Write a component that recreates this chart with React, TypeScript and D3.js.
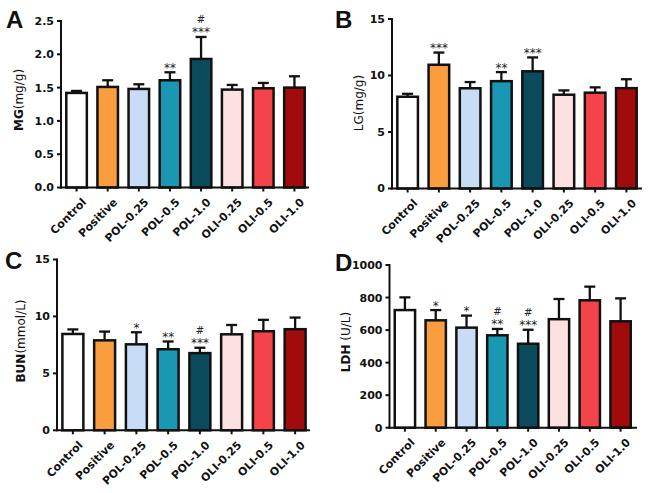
import React from "react";
import * as d3 from "d3";

const groups = ["Control", "Positive", "POL-0.25", "POL-0.5", "POL-1.0", "OLI-0.25", "OLI-0.5", "OLI-1.0"];
const barColors = ["#ffffff", "#f99d3e", "#c8dcf5", "#1997b3", "#0c4b5e", "#fde0e1", "#f5434a", "#a10b0b"];

const mgMean = [1.42, 1.51, 1.48, 1.61, 1.93, 1.47, 1.49, 1.5];
const mgSd = [0.03, 0.1, 0.07, 0.12, 0.33, 0.07, 0.08, 0.17];
const mgStars = ["", "", "", "**", "***", "", "", ""];
const mgHash = ["", "", "", "", "#", "", "", ""];

const lgMean = [8.12, 10.95, 8.87, 9.5, 10.37, 8.3, 8.48, 8.88];
const lgSd = [0.26, 1.08, 0.55, 0.8, 1.23, 0.38, 0.47, 0.79];
const lgStars = ["", "***", "", "**", "***", "", "", ""];
const lgHash = ["", "", "", "", "", "", "", ""];

const bunMean = [8.46, 7.9, 7.55, 7.12, 6.78, 8.43, 8.7, 8.88];
const bunSd = [0.4, 0.77, 1.06, 0.68, 0.47, 0.82, 1.0, 1.02];
const bunStars = ["", "", "*", "**", "***", "", "", ""];
const bunHash = ["", "", "", "", "#", "", "", ""];

const ldhMean = [723, 660, 615, 568, 516, 667, 783, 654];
const ldhSd = [78, 63, 74, 39, 86, 124, 84, 141];
const ldhStars = ["", "*", "*", "**", "***", "", "", ""];
const ldhHash = ["", "", "", "#", "#", "", "", ""];

const mgTicks = [0, 0.5, 1.0, 1.5, 2.0, 2.5];
const lgTicks = [0, 5, 10, 15];
const bunTicks = [0, 5, 10, 15];
const ldhTicks = [0, 200, 400, 600, 800, 1000];

const FONT = "'DejaVu Sans', sans-serif";

interface PanelProps {
  letter: string;
  letterPos: [number, number];
  labelBold: string;
  labelRest: string;
  labelX: number;
  labelY: number;
  x0: number;
  x1: number;
  axisEnd: number;
  yTop: number;
  yBottom: number;
  yMax: number;
  ticks: number[];
  fmt: (v: number) => string;
  mean: number[];
  sd: number[];
  stars: string[];
  hash: string[];
}

const Panel: React.FC<PanelProps> = (p) => {
  const x = d3.scaleBand<string>().domain(groups).range([p.x0, p.x1]).paddingInner(0.34).paddingOuter(0.17);
  const y = d3.scaleLinear().domain([0, p.yMax]).range([p.yBottom, p.yTop]);
  const bw = x.bandwidth();
  const cap = 11;
  return (
    <g>
      <text x={p.letterPos[0]} y={p.letterPos[1]} fontFamily="'Liberation Sans', Arial, sans-serif" fontWeight="bold" fontSize={24} fill="#111">
        {p.letter}
      </text>
      <text
        transform={`translate(${p.labelX},${p.labelY}) rotate(-90)`}
        textAnchor="middle"
        fontFamily={FONT}
        fontSize={12}
        fill="#111"
      >
        <tspan fontWeight="bold">{p.labelBold}</tspan>
        <tspan>{p.labelRest}</tspan>
      </text>
      {/* error bars (upper half only) */}
      {groups.map((g, i) => {
        const cx = (x(g) ?? 0) + bw / 2;
        const top = y(p.mean[i] + p.sd[i]);
        return (
          <g key={"e" + g} stroke="#111" strokeWidth={2.3}>
            <line x1={cx} x2={cx} y1={y(p.mean[i])} y2={top} />
            <line x1={cx - cap / 2} x2={cx + cap / 2} y1={top} y2={top} />
          </g>
        );
      })}
      {groups.map((g, i) => (
        <rect
          key={"b" + g}
          x={x(g)}
          y={y(p.mean[i])}
          width={bw}
          height={y(0) - y(p.mean[i])}
          fill={barColors[i]}
          stroke="#111"
          strokeWidth={2.5}
        />
      ))}
      {groups.map((g, i) => {
        const cx = (x(g) ?? 0) + bw / 2;
        const top = y(p.mean[i] + p.sd[i]);
        return (
          <g key={"s" + g} fontFamily={FONT} fill="#222" textAnchor="middle">
            {p.stars[i] && (
              <text x={cx} y={top - 0.5} fontSize={12}>
                {p.stars[i]}
              </text>
            )}
            {p.hash[i] && (
              <text x={cx} y={top - 13.5} fontSize={10}>
                {p.hash[i]}
              </text>
            )}
          </g>
        );
      })}
      {/* y axis */}
      <line x1={p.x0} x2={p.x0} y1={p.yTop - 1} y2={p.yBottom + 1} stroke="#111" strokeWidth={2} />
      {p.ticks.map((t) => (
        <g key={"t" + t}>
          <line x1={p.x0 - 4} x2={p.x0} y1={y(t)} y2={y(t)} stroke="#111" strokeWidth={2} />
          <text
            x={p.x0 - 7}
            y={y(t)}
            dy="0.36em"
            textAnchor="end"
            fontFamily={FONT}
            fontWeight="bold"
            fontSize={11}
            fill="#111"
          >
            {p.fmt(t)}
          </text>
        </g>
      ))}
      {/* x axis */}
      <line x1={p.x0 - 1} x2={p.axisEnd} y1={p.yBottom} y2={p.yBottom} stroke="#111" strokeWidth={2} />
      {groups.map((g) => {
        const cx = (x(g) ?? 0) + bw / 2;
        return (
          <g key={"x" + g}>
            <line x1={cx} x2={cx} y1={p.yBottom} y2={p.yBottom + 4} stroke="#111" strokeWidth={2} />
            <text
              transform={`translate(${cx + 5},${p.yBottom + 10}) rotate(-45)`}
              textAnchor="end"
              dy="0.7em"
              fontFamily={FONT}
              fontWeight="bold"
              fontSize={11}
              fill="#111"
            >
              {g}
            </text>
          </g>
        );
      })}
    </g>
  );
};

export default function App() {
  return (
    <svg
      width={650}
      height={493}
      viewBox="0 0 650 493"
      style={{ position: "absolute", left: 0, top: 0, background: "#fff", display: "block" }}
    >
      <rect width={650} height={493} fill="#fff" />
      <Panel
        letter="A"
        letterPos={[6, 28]}
        labelBold="MG"
        labelRest="(mg/g)"
        labelX={23}
        labelY={100}
        x0={61}
        x1={310}
        axisEnd={309}
        yTop={21}
        yBottom={187.5}
        yMax={2.5}
        ticks={mgTicks}
        fmt={d3.format(".1f")}
        mean={mgMean}
        sd={mgSd}
        stars={mgStars}
        hash={mgHash}
      />
      <Panel
        letter="B"
        letterPos={[335, 28]}
        labelBold=""
        labelRest="LG(mg/g)"
        labelX={363}
        labelY={103}
        x0={392}
        x1={642}
        axisEnd={642}
        yTop={19}
        yBottom={188.5}
        yMax={15}
        ticks={lgTicks}
        fmt={d3.format("d")}
        mean={lgMean}
        sd={lgSd}
        stars={lgStars}
        hash={lgHash}
      />
      <Panel
        letter="C"
        letterPos={[5, 269]}
        labelBold="BUN"
        labelRest="(mmol/L)"
        labelX={25}
        labelY={341}
        x0={57}
        x1={311}
        axisEnd={310}
        yTop={259.5}
        yBottom={430.3}
        yMax={15}
        ticks={bunTicks}
        fmt={d3.format("d")}
        mean={bunMean}
        sd={bunSd}
        stars={bunStars}
        hash={bunHash}
      />
      <Panel
        letter="D"
        letterPos={[335, 271]}
        labelBold="LDH"
        labelRest=" (U/L)"
        labelX={350}
        labelY={342}
        x0={389.5}
        x1={636}
        axisEnd={637}
        yTop={265}
        yBottom={427.7}
        yMax={1000}
        ticks={ldhTicks}
        fmt={d3.format("d")}
        mean={ldhMean}
        sd={ldhSd}
        stars={ldhStars}
        hash={ldhHash}
      />
    </svg>
  );
}
